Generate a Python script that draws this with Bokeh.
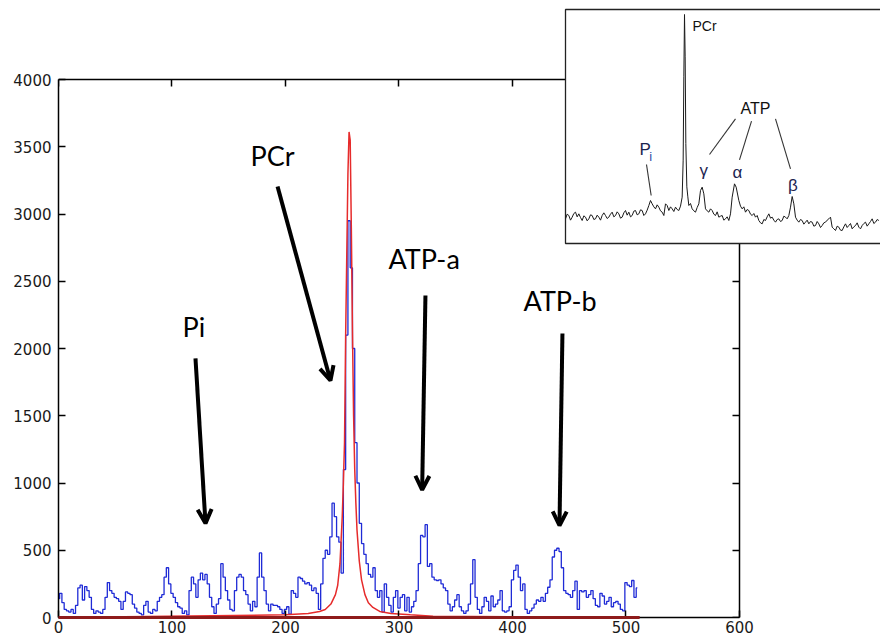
from bokeh.plotting import figure
from bokeh.models import Range1d, LinearAxis, FixedTicker, Arrow, OpenHead, Label
from bokeh.embed import file_html
from bokeh.resources import INLINE

# ---------------- main spectrum (channel index, step 2) ----------------
blue_x = list(range(0, 512, 2))
blue_y = [
    140, 180, 110, 60, 50, 40, 60, 30, 90, 220,
    240, 130, 230, 200, 150, 60, 30, 50, 40, 30,
    60, 150, 260, 200, 180, 150, 140, 120, 60, 120,
    190, 180, 170, 100, 70, 40, 30, 20, 90, 120,
    40, 30, 60, 50, 120, 150, 170, 300, 370, 250,
    180, 150, 110, 80, 70, 30, 50, 20, 200, 300,
    250, 150, 280, 330, 280, 320, 250, 150, 80, 30,
    100, 140, 400, 300, 200, 130, 60, 50, 200, 300,
    320, 300, 200, 170, 100, 50, 120, 80, 300, 480,
    300, 200, 100, 50, 100, 90, 90, 80, 60, 30,
    60, 80, 25, 200, 180, 150, 300, 290, 270, 250,
    260, 240, 200, 220, 180, 60, 250, 440, 500, 470,
    600, 850, 750, 600, 560, 330, 1100, 2100, 2950, 2600,
    2000, 1300, 1000, 700, 550, 470, 400, 320, 300, 370,
    200, 150, 200, 40, 250, 150, 90, 40, 150, 200,
    70, 150, 170, 50, 150, 40, 80, 120, 200, 400,
    610, 600, 690, 380, 400, 300, 280, 275, 280, 250,
    220, 200, 100, 50, 80, 130, 170, 80, 50, 30,
    50, 100, 250, 430, 150, 60, 30, 80, 150, 120,
    50, 160, 80, 100, 130, 200, 50, 40, 50, 80,
    280, 350, 390, 300, 200, 250, 60, 30, 50, 70,
    100, 130, 120, 150, 120, 180, 225, 280, 450, 500,
    515, 490, 370, 200, 180, 170, 150, 200, 270, 60,
    200, 190, 200, 150, 170, 200, 140, 90, 80, 180,
    160, 100, 120, 150, 80, 110, 120, 100, 60, 50,
    260, 240, 230, 275, 150, 220,
]

# fitted PCr line
red_x = [0, 200, 220, 230, 235, 240, 244, 246, 248, 250, 251, 252, 253, 254,
         255, 256, 257, 258, 259, 260, 261, 262, 263, 265, 267, 270, 273, 277,
         283, 293, 310, 330, 512]
red_y = [0, 20, 30, 45, 60, 100, 170, 240, 400, 750, 1000, 1300, 2100, 2700,
         3300, 3610, 3550, 2900, 2130, 1500, 1100, 850, 650, 420, 280, 170, 110,
         75, 45, 30, 20, 10, 0]

base_x = [0, 512]
base_y = [0, 0]

x_ticks = [0, 100, 200, 300, 400, 500, 600]
y_ticks = [0, 500, 1000, 1500, 2000, 2500, 3000, 3500, 4000]
top_ticks = [0, 100, 200, 300, 400]
right_ticks = [0, 500, 1000, 1500, 2000, 2500]

# annotations (data coords)
ann_text = ["PCr", "Pi", "ATP-a", "ATP-b"]
ann_x = [169.2, 109.3, 290.7, 409.7]
ann_y = [3436, 2164, 2670, 2358]
arr_x0 = [193.0, 120.7, 323.3, 444.0]
arr_y0 = [3204, 1926, 2394, 2112]
arr_x1 = [239.6, 129.5, 320.4, 441.4]
arr_y1 = [1762, 700, 949, 684]

# ---------------- inset spectrum (inset units) ----------------
inset_x = [0, 5, 10, 15, 20, 25, 30, 35, 40, 45, 50, 55, 60, 65, 70, 75, 80, 85,
           90, 95, 100, 105, 110, 115, 120, 125, 130, 135, 140, 145, 150, 155,
           160, 165, 170, 175, 180, 185, 190, 195, 200, 205, 210, 215, 220, 225,
           230, 235, 240, 245, 250, 255, 260, 265, 270, 275, 280, 285, 290, 295,
           300, 305, 310, 315, 320, 325, 330, 335, 340, 345, 350, 353, 355, 357,
           359, 361, 364, 367, 370, 375, 380, 385, 390, 395, 400, 405, 410, 415,
           420, 425, 430, 435, 440, 445, 450, 455, 460, 465, 470, 475, 480, 485,
           490, 495, 500, 507, 512, 520, 525, 530, 535, 540, 545, 550, 555, 560,
           565, 570, 575, 580, 585, 590, 595, 600, 605, 610, 615, 620, 625, 630,
           635, 640, 645, 650, 655, 660, 665, 670, 675, 680, 685, 690, 695, 700,
           705, 710, 715, 720, 725, 730, 735, 740, 745, 750, 755, 760, 765, 770,
           775, 780, 785, 790, 795, 800, 805, 810, 815, 820, 825, 830, 835, 840,
           845, 850, 855, 860, 865, 870, 875, 880, 885, 890, 895, 900, 905, 910,
           915, 920, 925, 930, 935, 940]
inset_y = [74, 88, 84, 70, 79, 90, 94, 80, 89, 78, 69, 83, 79, 68, 74, 86, 84, 72,
           74, 85, 79, 70, 84, 92, 84, 75, 79, 88, 94, 80, 84, 95,
           89, 76, 79, 92, 99, 85, 94, 80, 84, 97, 99, 86, 89, 101,
           99, 84, 89, 100, 114, 129, 119, 110, 104, 116, 109, 98, 94, 84,
           119, 114, 99, 110, 104, 96, 109, 102, 99, 112, 139, 250, 500, 687,
           560, 300, 170, 140, 114, 120, 104, 98, 94, 108, 119, 159, 169, 149,
           104, 98, 94, 104, 99, 88, 84, 95, 79, 82, 84, 70, 74, 80,
           69, 89, 139, 179, 169, 129, 112, 104, 110, 94, 102, 99, 88, 84,
           90, 79, 84, 69, 62, 59, 72, 69, 80, 89, 76, 79, 70, 64,
           72, 74, 66, 69, 82, 79, 74, 84, 109, 141, 119, 79, 70, 64,
           72, 69, 58, 64, 70, 59, 66, 64, 52, 54, 66, 59, 48, 54,
           62, 64, 70, 74, 79, 49, 44, 39, 52, 49, 40, 39, 50, 59,
           48, 54, 60, 44, 50, 54, 62, 49, 44, 54, 60, 64, 52, 59,
           66, 74, 60, 64, 72, 69]

lead_x0 = [243, 510, 558, 630]
lead_y0 = [237, 374, 367, 374]
lead_x1 = [257, 432, 522, 675]
lead_y1 = [144, 267, 251, 224]

# ---------------- figure ----------------
p = figure(width=880, height=637, output_backend="svg", toolbar_location=None,
           x_range=Range1d(0, 724.23), y_range=Range1d(0, 4550.2),
           min_border_left=58, min_border_right=0, min_border_top=5,
           min_border_bottom=20, background_fill_color="white",
           border_fill_color="white")
p.outline_line_color = None
p.xgrid.visible = False
p.ygrid.visible = False

p.extra_x_ranges = {"inset": Range1d(-1521, 945)}
p.extra_y_ranges = {"inset": Range1d(-1122, 714)}

tick_font = "DejaVu Sans"


def style_axis(ax, labels=True):
    ax.axis_line_color = "black"
    ax.axis_line_width = 1.5
    ax.major_tick_line_color = "black"
    ax.major_tick_line_width = 1.5
    ax.major_tick_in = 7
    ax.major_tick_out = 0
    ax.minor_tick_line_color = None
    if labels:
        ax.major_label_text_font = tick_font
        ax.major_label_text_font_size = "15px"
        ax.major_label_text_color = "#1a1a1a"
    else:
        ax.major_label_text_font_size = "1px"
        ax.major_label_text_color = None
        ax.major_label_standoff = 0


xa = p.xaxis[0]
xa.ticker = FixedTicker(ticks=x_ticks)
xa.bounds = (0, 600)
style_axis(xa)
xa.major_label_standoff = 3

ya = p.yaxis[0]
ya.ticker = FixedTicker(ticks=y_ticks)
ya.bounds = (0, 4000)
style_axis(ya)
ya.major_label_standoff = 7

top = LinearAxis(ticker=FixedTicker(ticks=top_ticks), bounds=(0, 447), fixed_location=4000)
style_axis(top, labels=False)
p.add_layout(top, "above")

right = LinearAxis(ticker=FixedTicker(ticks=right_ticks), bounds=(0, 2780), fixed_location=600)
style_axis(right, labels=False)
p.add_layout(right, "right")

# data
p.step(blue_x, blue_y, mode="center", line_color="#1f2bd6", line_width=1.3)
p.line(red_x, red_y, line_color="#e62b2b", line_width=1.5)
p.line(base_x, base_y, line_color="#8e1b1b", line_width=3, level="overlay")

# annotations
for t, x, y in zip(ann_text, ann_x, ann_y):
    p.add_layout(Label(x=x, y=y, text=t, text_font="Lato", text_font_size="27px",
                       text_color="black", text_baseline="alphabetic", text_align="left"))
for x0, y0, x1, y1 in zip(arr_x0, arr_y0, arr_x1, arr_y1):
    p.add_layout(Arrow(end=OpenHead(size=14, line_width=4, line_color="black"),
                       x_start=x0, y_start=y0, x_end=x1, y_end=y1,
                       line_width=4, line_color="black"))

# inset
p.quad(left=[0], right=[1000], bottom=[0], top=[702], fill_color="white",
       line_color="#222222", line_width=1.3, x_range_name="inset", y_range_name="inset",
       level="overlay")
p.line(inset_x, inset_y, line_color="#1a1a1a", line_width=1.0,
       x_range_name="inset", y_range_name="inset", level="overlay")
p.segment(lead_x0, lead_y0, lead_x1, lead_y1, line_color="#333333", line_width=1.1,
          x_range_name="inset", y_range_name="inset", level="overlay")

inset_labels = [
    ("PCr", 381, 652, "14px", "#111111", "left", "alphabetic"),
    ("ATP", 525, 406, "16px", "#111111", "left", "alphabetic"),
    ("P", 222, 281, "17px", "#1c2450", "left", "alphabetic"),
    ("i", 251, 261, "13px", "#3050a8", "left", "alphabetic"),
    ("γ", 415, 219, "17px", "#1c2450", "center", "middle"),
    ("α", 516, 213, "17px", "#1c2450", "center", "middle"),
    ("β", 682, 174, "17px", "#1c2450", "center", "middle"),
]
for t, x, y, fs, col, al, bl in inset_labels:
    p.add_layout(Label(x=x, y=y, text=t, text_font="Liberation Sans", text_font_size=fs,
                       text_color=col, text_align=al, text_baseline=bl,
                       x_range_name="inset", y_range_name="inset", level="overlay"))

open("out.html", "w").write(file_html(p, INLINE))
